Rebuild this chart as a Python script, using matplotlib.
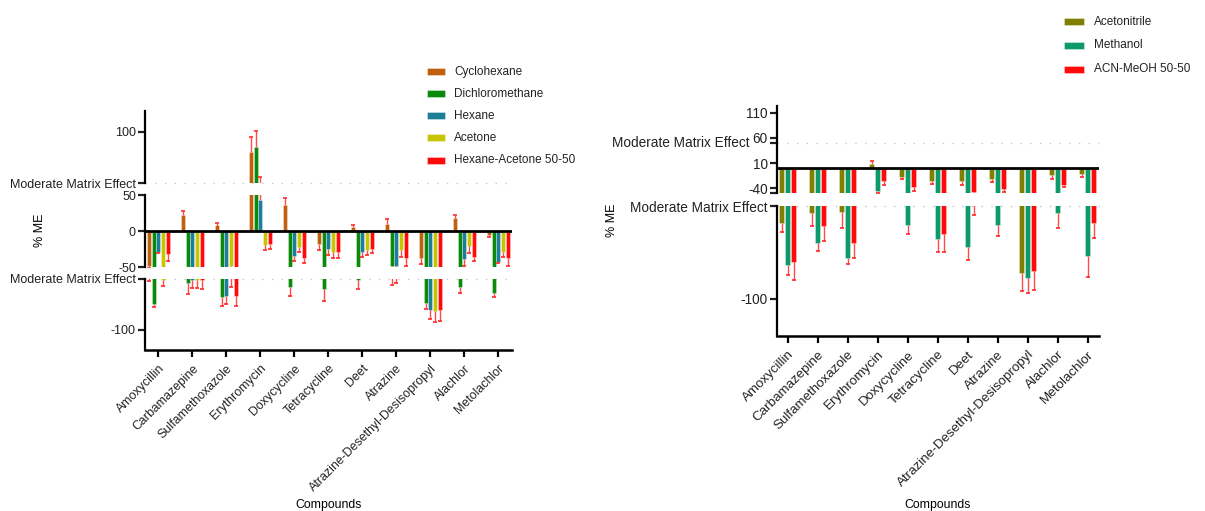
import matplotlib
matplotlib.use('Agg')
import matplotlib.pyplot as plt
import matplotlib.transforms as mtransforms
import numpy as np
from matplotlib.patches import Rectangle

plt.rcParams['font.family'] = ['Liberation Sans', 'DejaVu Sans']

compounds = ['Amoxycillin', 'Carbamazepine', 'Sulfamethoxazole', 'Erythromycin',
             'Doxycycline', 'Tetracycline', 'Deet', 'Atrazine',
             'Atrazine-Desethyl-Desisopropyl', 'Alachlor', 'Metolachlor']

# ---- left chart (non-polar solvents) ----
left_names = ['Cyclohexane', 'Dichloromethane', 'Hexane', 'Acetone', 'Hexane-Acetone 50-50']
left_colors = ['#C0600C', '#0A8A0A', '#1C7F98', '#C8C400', '#FF0A0A']
cyclohexane = [-48, 22, 8, 80, 36, -18, 5, 10, -37, 18, -6]
cyclohexane_err = [4, 6, 3, 15, 10, 9, 3, 7, 9, 4, 3]
dichloromethane = [-75, -54, -68, 85, -58, -60, -51, -48, -74, -58, -64]
dichloromethane_err = [3, 11, 9, 16, 9, 12, 9, 8, 6, 6, 4]
hexane = [-29, -51, -67, 43, -35, -25, -29, -49, -81, -39, -43]
hexane_err = [2, 8, 8, 13, 7, 9, 7, 5, 9, 9, 2]
acetone = [-51, -51, -49, -20, -22, -29, -26, -26, -82, -21, -29]
acetone_err = [6, 8, 9, 6, 7, 9, 8, 10, 11, 10, 7]
hexane_acetone = [-32, -51, -67, -18, -38, -29, -25, -37, -81, -36, -38]
hexane_acetone_err = [9, 9, 10, 7, 7, 9, 6, 11, 11, 6, 10]

# ---- right chart (polar solvents) ----
right_names = ['Acetonitrile', 'Methanol', 'ACN-MeOH 50-50']
right_colors = ['#808000', '#0C9A6A', '#FF0A0A']
acetonitrile = [-59, -54, -53, 8, -17, -25, -25, -21, -86, -14, -11]
acetonitrile_err = [5, 7, 9, 6, 5, 6, 8, 6, 10, 7, 6]
methanol = [-82, -70, -78, -45, -60, -68, -72, -60, -89, -54, -77]
methanol_err = [5, 4, 3, 4, 5, 7, 7, 6, 8, 8, 11]
acn_meoh = [-80, -61, -70, -26, -38, -65, -48, -41, -85, -34, -59]
acn_meoh_err = [10, 8, 8, 8, 7, 10, 7, 7, 10, 4, 8]

mme_label = 'Moderate Matrix Effect'

W, H = 1205, 511
fig = plt.figure(figsize=(W / 100, H / 100), dpi=100)


def fax(x0, y0, x1, y1):
    return fig.add_axes([x0 / W, 1 - y1 / H, (x1 - x0) / W, (y1 - y0) / H])


ERR_C = '#FF2A2A'


def style(ax, yfs, bottom=False):
    for s in ['top', 'right']:
        ax.spines[s].set_visible(False)
    ax.spines['left'].set_linewidth(1.6)
    if bottom:
        ax.spines['bottom'].set_linewidth(1.8)
        ax.tick_params(axis='x', length=5, width=1.6, direction='out', pad=4)
    else:
        ax.spines['bottom'].set_visible(False)
        ax.tick_params(axis='x', bottom=False, labelbottom=False)
    ax.tick_params(axis='y', length=5, width=1.6, direction='out', pad=1.5,
                   labelsize=yfs, colors='#222222')
    ax.set_facecolor('none')


def draw(ax, series, errs, colors, slot, fill, xlim):
    x = np.arange(len(compounds))
    n = len(series)
    for i, (vals, err, c) in enumerate(zip(series, errs, colors)):
        vals = np.asarray(vals, float)
        err = np.asarray(err, float)
        off = (i - (n - 1) / 2) * slot
        ax.bar(x + off, vals, width=slot * fill, color=c,
               edgecolor=(1, 1, 1, 0.45), linewidth=0.5, zorder=2)
        lower = np.where(vals < 0, err, 0)
        upper = np.where(vals >= 0, err, 0)
        ax.errorbar(x + off, vals, yerr=[lower, upper], fmt='none',
                    ecolor=ERR_C, elinewidth=1.0, capsize=0, alpha=0.85, zorder=3)
        ends = np.where(vals < 0, vals - err, vals + err)
        ax.plot(x + off, ends, ls='none', marker='_', ms=3, mew=1.2,
                color=ERR_C, zorder=3)
    ax.set_xlim(*xlim)


def dotted(ax, y):
    ax.axhline(y, color='#c8c8c8', lw=1.0, ls=(0, (1, 6)), clip_on=False, zorder=1)


# ================= LEFT =================
LYFS, LXFS = 9, 8.9
left_series = [cyclohexane, dichloromethane, hexane, acetone, hexane_acetone]
left_errs = [cyclohexane_err, dichloromethane_err, hexane_err, acetone_err, hexane_acetone_err]
lxlim = ((145 - 158.3) / 34, (512 - 158.3) / 34)
lslot = 4.67 / 34

axT = fax(145, 111, 512, 183.3)
axM = fax(145, 195, 512, 267)
axB = fax(145, 278.7, 512, 350)
for ax, lim in [(axT, (50, 120)), (axM, (-50, 50)), (axB, (-120, -50))]:
    draw(ax, left_series, left_errs, left_colors, lslot, 0.86, lxlim)
    ax.set_ylim(*lim)
style(axT, LYFS)
style(axM, LYFS)
style(axB, LYFS, bottom=True)
axT.set_yticks([50, 100], [mme_label, '100'])
axM.set_yticks([-50, 0, 50], ['-50', '0', '50'])
axB.set_yticks([-100, -50], ['-100', mme_label])
axM.axhline(0, color='black', lw=2.0, zorder=5)
dotted(axT, 50)
dotted(axB, -50)
axB.set_xticks(np.arange(len(compounds)))
axB.set_xticklabels(compounds, rotation=45, ha='right', rotation_mode='anchor',
                    fontsize=LXFS, color='#222222')
axB.set_xlabel('Compounds', fontsize=8.8)
axB.xaxis.set_label_coords(0.5, (350 - 505) / 71.3)
axB.xaxis.label.set_va('center')
axM.set_ylabel('% ME', fontsize=9)
axM.yaxis.set_label_coords((40 - 145) / 367, (267 - 230) / 72)
axM.yaxis.label.set_va('center')

# ================= RIGHT =================
RYFS, RXFS = 9.8, 9.6
right_series = [acetonitrile, methanol, acn_meoh]
right_errs = [acetonitrile_err, methanol_err, acn_meoh_err]
rxlim = ((776.7 - 787.7) / 30, (1099 - 787.7) / 30)
rslot = 5.8 / 30

axRT = fax(776.7, 105.7, 1099, 193.3)
axRB = fax(776.7, 206, 1099, 336)
for ax, lim in [(axRT, (-50, 124)), (axRB, (-120, -50))]:
    draw(ax, right_series, right_errs, right_colors, rslot, 0.86, rxlim)
    ax.set_ylim(*lim)
style(axRT, RYFS)
style(axRB, RYFS, bottom=True)
axRT.set_yticks([-50, -40, 10, 50, 60, 110], ['', '-40', '10', '', '60', '110'])
# the threshold label sits left of the "60" tick label, as in the original
blend = mtransforms.blended_transform_factory(axRT.transAxes, axRT.transData)
axRT.text((749 - 776.7) / 322.3, 50, mme_label, transform=blend, ha='right',
          va='center', fontsize=RYFS, color='#222222', clip_on=False)
axRB.set_yticks([-100, -50], ['-100', mme_label])
axRT.axhline(0, color='black', lw=2.0, zorder=5)
dotted(axRT, 50)
dotted(axRB, -50)
axRB.set_xticks(np.arange(len(compounds)))
axRB.set_xticklabels(compounds, rotation=45, ha='right', rotation_mode='anchor',
                     fontsize=RXFS, color='#222222')
axRB.set_xlabel('Compounds', fontsize=8.8)
axRB.xaxis.set_label_coords(0.5, (336 - 505) / 130)
axRB.xaxis.label.set_va('center')
axRB.set_ylabel('% ME', fontsize=9)
axRB.yaxis.set_label_coords((612 - 776.7) / 322.3, (336 - 220) / 130)
axRB.yaxis.label.set_va('center')


# ================= LEGENDS =================
def legend(names, colors, x0, x1, ys, xt):
    for name, c, y in zip(names, colors, ys):
        fig.add_artist(Rectangle((x0 / W, 1 - (y + 3.5) / H), (x1 - x0) / W, 7 / H,
                                 transform=fig.transFigure, facecolor=c,
                                 edgecolor=(1, 1, 1, 0.5), linewidth=0.5))
        fig.text(xt / W, 1 - y / H, name, fontsize=8.5, va='center', ha='left',
                 color='#222222')


legend(left_names, left_colors, 427, 445, [71.7, 93.8, 115.9, 138, 160.1], 454)
legend(right_names, right_colors, 1064, 1084, [21.7, 45.5, 69.3], 1094)

fig.savefig('out.png', dpi=100)
